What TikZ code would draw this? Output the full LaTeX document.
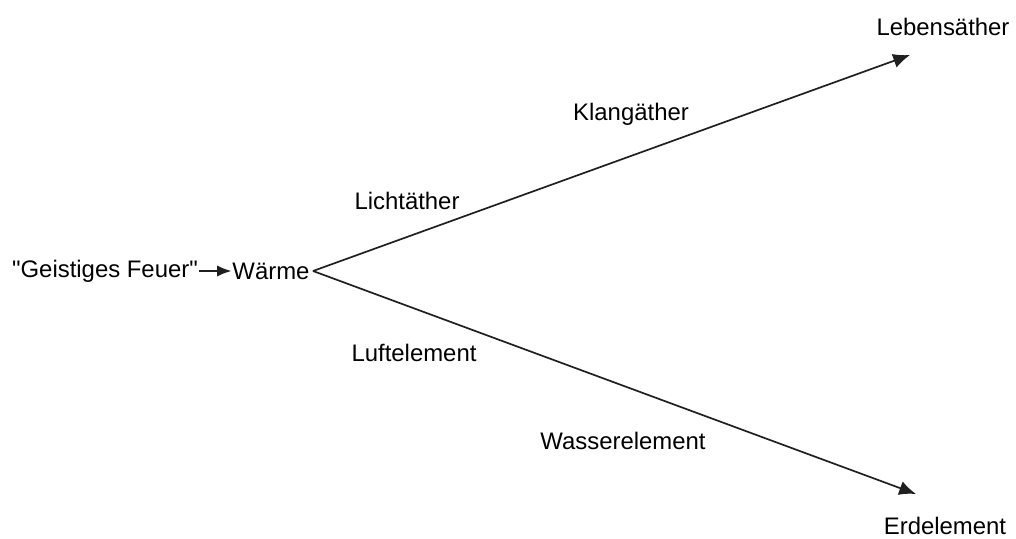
\documentclass[tikz,border=0pt]{standalone}
\usepackage{fontspec}
\setmainfont{Liberation Sans}
\usetikzlibrary{arrows.meta}
\tikzset{
	lbl/.style={inner sep=0.5pt, font=\fontsize{17}{20}\selectfont},
	ray/.style={line width=1.2pt, color=black!88},
	tip/.style={-{Latex[length=0.42cm, width=0.36cm]}}
}

\begin{document}
\begin{tikzpicture}[x=0.025cm, y=-0.025cm]
		%%%%% START %%%%%
		
		\useasboundingbox (0, 0) rectangle (1016, 538);
		
		\node[lbl] (geist) at (105, 271) {\textquotedbl Geistiges Feuer\textquotedbl};
		\node[lbl] (waerme) at (271, 271) {Wärme};
		\node[lbl] (lebens) at (943, 27) {Lebensäther};
		\node[lbl] (erde) at (945, 526) {Erdelement};
		
		\node[lbl] (klang) at (631, 114) {Klangäther};
		\node[lbl] (licht) at (407, 201) {Lichtäther};
		\node[lbl] (luft) at (414, 353) {Luftelement};
		\node[lbl] (wasser) at (623, 441) {Wasserelement};
		
		\coordinate (fork) at (313, 271);
		\coordinate (tipA) at (910, 55);
		\coordinate (tipB) at (916, 494);
		
		\draw[ray, -{Latex[length=0.36cm, width=0.28cm]}] (geist.east) -- (waerme.west);
		\draw[ray, tip] (fork) -- (tipA);
		\draw[ray, tip] (fork) -- (tipB);
		
		%%%%% END %%%%%
	\end{tikzpicture}
\end{document}
